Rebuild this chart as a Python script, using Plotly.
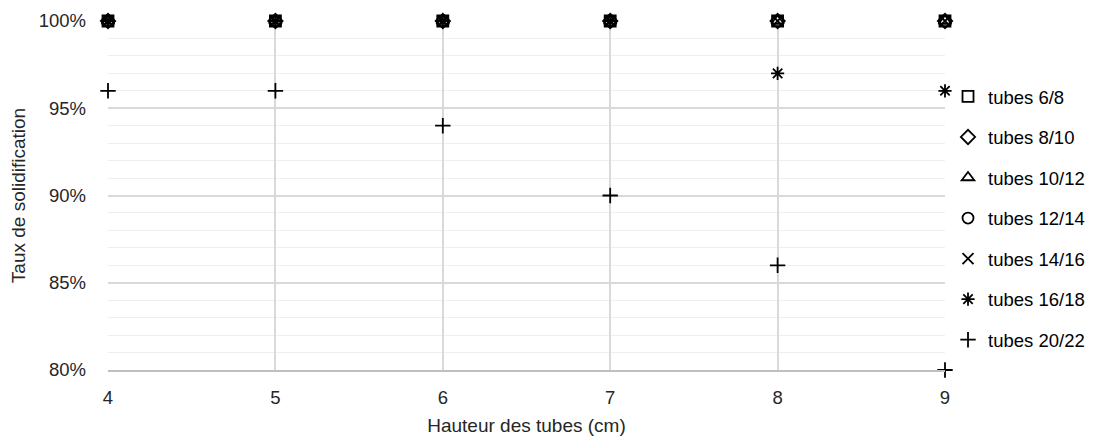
import plotly.graph_objects as go

heights = [4, 5, 6, 7, 8, 9]
series_names = ["tubes 6/8", "tubes 8/10", "tubes 10/12", "tubes 12/14",
                "tubes 14/16", "tubes 16/18", "tubes 20/22"]
tubes_6_8 = [1.00, 1.00, 1.00, 1.00, 1.00, 1.00]
tubes_8_10 = [1.00, 1.00, 1.00, 1.00, 1.00, 1.00]
tubes_10_12 = [1.00, 1.00, 1.00, 1.00, 1.00, 1.00]
tubes_12_14 = [1.00, 1.00, 1.00, 1.00, 1.00, 1.00]
tubes_14_16 = [1.00, 1.00, 1.00, 1.00, 1.00, 1.00]
tubes_16_18 = [1.00, 1.00, 1.00, 1.00, 0.97, 0.96]
tubes_20_22 = [0.96, 0.96, 0.94, 0.90, 0.86, 0.80]
series_values = [tubes_6_8, tubes_8_10, tubes_10_12, tubes_12_14,
                 tubes_14_16, tubes_16_18, tubes_20_22]
symbols = ["square-open", "diamond-open", "triangle-up-open", "circle-open",
           "x-thin-open", "asterisk-open", "cross-thin-open"]

FONT = "Liberation Sans"
fig = go.Figure()
for i, (name, vals, sym) in enumerate(zip(series_names, series_values, symbols)):
    fig.add_trace(go.Scatter(
        x=heights, y=vals, name=name, mode="markers", legendgroup=f"g{i}",
        marker=dict(symbol=sym, size=11, color="black",
                    line=dict(color="black", width=1.8)),
        cliponaxis=False,
    ))

fig.update_layout(
    width=1101, height=439,
    margin=dict(l=108, r=155, t=21, b=69),
    plot_bgcolor="white", paper_bgcolor="white",
    font=dict(family=FONT, size=18, color="#262626"),
    legend=dict(x=1.0024, xanchor="left", y=0.837, yanchor="top",
                bgcolor="rgba(0,0,0,0)", borderwidth=0,
                font=dict(size=18.5, color="black"),
                tracegroupgap=13.5, itemwidth=30),
    xaxis=dict(range=[4, 9], dtick=1, showgrid=True, gridcolor="#d9d9d9",
               gridwidth=1.5, zeroline=False, showline=True, linecolor="#bfbfbf",
               linewidth=1.5, ticks="", ticklabelstandoff=10, automargin=False,
               tickfont=dict(size=18.5),
               title=dict(text="Hauteur des tubes (cm)", font=dict(size=19), standoff=12)),
    yaxis=dict(range=[0.80, 1.00], dtick=0.05, tickformat=".0%", showgrid=True,
               gridcolor="#d9d9d9", gridwidth=1.5, zeroline=False, showline=False,
               ticks="", ticklabelstandoff=21, automargin=False,
               tickfont=dict(size=18.5),
               minor=dict(dtick=0.01, showgrid=True, gridcolor="#efefef", gridwidth=1),
               title=dict(text="Taux de solidification", font=dict(size=19), standoff=8)),
)

fig.write_html("out.html", config={"displayModeBar": False},
               post_script="document.body.style.margin='0';")
